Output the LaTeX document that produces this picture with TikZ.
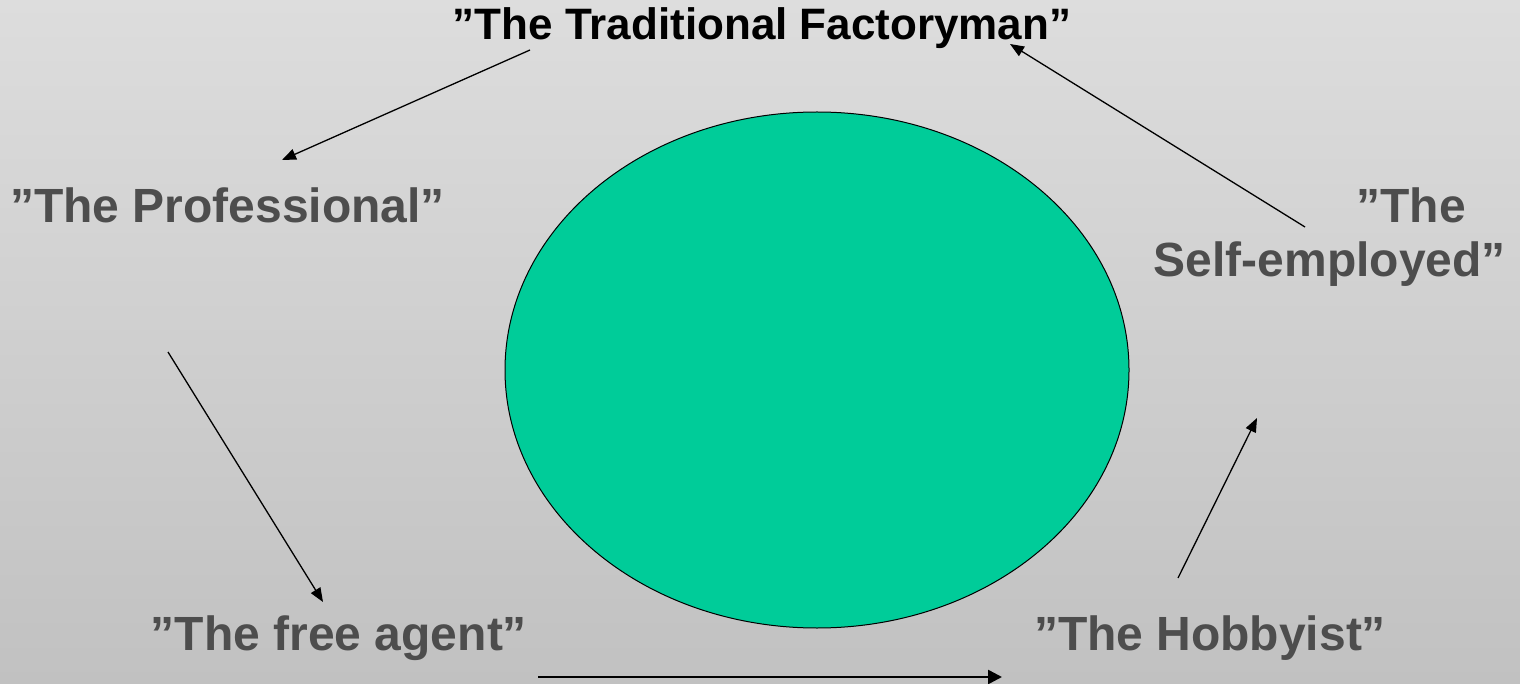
\documentclass[tikz,border=0pt]{standalone}
\usepackage{fontspec}
\setmainfont{Liberation Sans}
\usetikzlibrary{arrows.meta,shapes.geometric}
\definecolor{bgtop}{RGB}{221,221,221}
\definecolor{bgmid}{RGB}{213,213,213}
\definecolor{bgbot}{RGB}{193,193,193}
\definecolor{txtgray}{RGB}{77,77,77}
\definecolor{ellfill}{RGB}{0,204,153}
\tikzset{
  lbl/.style={font=\bfseries\fontsize{48}{56}\selectfont, text=txtgray, inner sep=0pt},
  ttl/.style={font=\bfseries\fontsize{44}{52}\selectfont, text=black, inner sep=0pt},
  arr/.style={draw=black, line width=1.3pt, -{Triangle[length=14pt,width=11pt]}},
  thickarr/.style={draw=black, line width=2.6pt, -{Triangle[length=14pt,width=14pt]}},
  bigell/.style={ellipse, draw=black, line width=1pt, fill=ellfill, inner sep=0pt, outer sep=0pt, minimum width=624pt, minimum height=516pt},
}
\begin{document}
\begin{tikzpicture}[x=1pt,y=-1pt]
\shade[top color=bgtop, middle color=bgmid, bottom color=bgbot] (0,0) rectangle (1520,684);
\useasboundingbox (0,0) rectangle (1520,684);
\node[bigell] (ell) at (817,370) {};
\node[ttl] (title) at (762,28) {”The Traditional Factoryman”};
\node[lbl, anchor=west] (prof) at (10,205) {”The Professional”};
\node[lbl, anchor=east] (se1) at (1466,205) {”The};
\node[lbl, anchor=east] (se2) at (1506,264) {Self-employed”};
\node[lbl] (free) at (339,638) {”The free agent”};
\node[lbl] (hobby) at (1210,638) {”The Hobbyist”};
\coordinate (a1s) at (530,50);
\coordinate (a1e) at (282,160);
\coordinate (a2s) at (1305,227);
\coordinate (a2e) at (1010,44);
\coordinate (a3s) at (168,352);
\coordinate (a3e) at (323,602);
\coordinate (a4s) at (1178,578);
\coordinate (a4e) at (1257,418);
\coordinate (a5s) at (538,677);
\coordinate (a5e) at (1002,677);
\draw[arr] (a1s) -- (a1e);
\draw[arr] (a2s) -- (a2e);
\draw[arr] (a3s) -- (a3e);
\draw[arr] (a4s) -- (a4e);
\draw[thickarr] (a5s) -- (a5e);
\end{tikzpicture}
\end{document}
